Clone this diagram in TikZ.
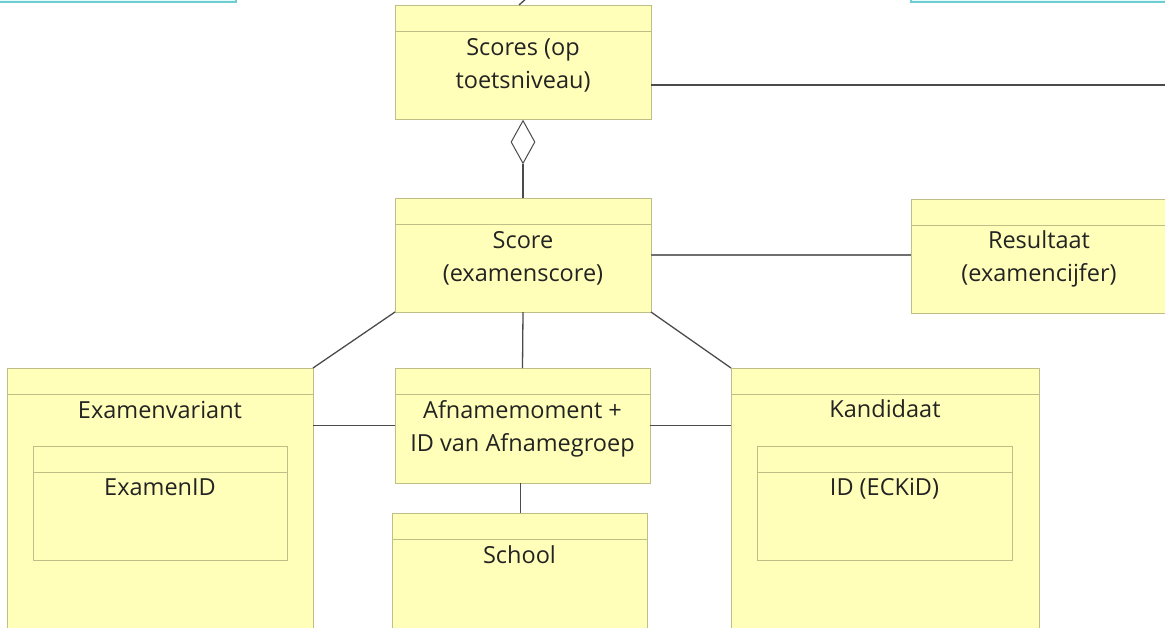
\documentclass[tikz,border=0pt]{standalone}
\usepackage{fontspec}
\setmainfont{Open Sans}
\usetikzlibrary{shapes.geometric}
\definecolor{klassegeel}{RGB}{255,255,185}
\definecolor{klasserand}{RGB}{190,190,135}
\definecolor{lijngrijs}{RGB}{75,75,75}
\definecolor{pakketcyaan}{RGB}{228,250,250}
\definecolor{pakketrand}{RGB}{110,205,210}
\definecolor{tekstkleur}{RGB}{35,35,35}

\begin{document}
\begin{tikzpicture}[x=1pt,y=-1pt]
        \tikzstyle{klasse}=[fill=klassegeel, draw=klasserand, line width=1pt, rectangle, inner sep=0pt, outer sep=0pt, anchor=north west]
        \tikzstyle{rand}=[draw=klasserand, line width=1pt]
        \tikzstyle{tekst}=[font=\fontsize{23.5}{33}\selectfont, text=tekstkleur, align=center, inner sep=0pt, anchor=base]
        \tikzstyle{lijn}=[draw=lijngrijs, line width=1.3pt]
        \tikzstyle{ruit}=[diamond, draw=lijngrijs, fill=white, line width=1pt, inner sep=0pt, minimum width=24pt, minimum height=43pt, anchor=north]
        \tikzstyle{pakket}=[fill=pakketcyaan, draw=pakketrand, line width=1.5pt]

        \useasboundingbox (0,0) rectangle (1165,627);
        \clip (0,0) rectangle (1165,627);

        \draw[pakket] (-5,-60) rectangle (236,2);
        \draw[pakket] (911,-60) rectangle (1175,2);

        \coordinate (boven) at (528,-3);
        \coordinate (rechts) at (1175,85);

        \node[klasse, minimum width=256pt, minimum height=114pt] (scores) at (395,5) {};
        \node[klasse, minimum width=256pt, minimum height=114pt] (score) at (395,198) {};
        \node[klasse, minimum width=256pt, minimum height=114pt] (resultaat) at (911,199) {};
        \node[klasse, minimum width=306pt, minimum height=280pt] (examenvariant) at (7,368) {};
        \node[klasse, minimum width=254pt, minimum height=114pt] (examenid) at (33,446) {};
        \node[klasse, minimum width=255pt, minimum height=115pt] (afname) at (395,368) {};
        \node[klasse, minimum width=255pt, minimum height=130pt] (school) at (392,513) {};
        \node[klasse, minimum width=308pt, minimum height=280pt] (kandidaat) at (731,368) {};
        \node[klasse, minimum width=255pt, minimum height=114pt] (eckid) at (757,446) {};

        \foreach \k in {scores,score,resultaat,examenvariant,examenid,afname,school,kandidaat,eckid}
          \draw[rand] ([yshift=-26pt]\k.north west) -- ([yshift=-26pt]\k.north east);

        \node[tekst] at ([yshift=-83pt]scores.north) {Scores (op\\toetsniveau)};
        \node[tekst] at ([yshift=-83pt]score.north) {Score\\(examenscore)};
        \node[tekst] at ([yshift=-82pt]resultaat.north) {Resultaat\\(examencijfer)};
        \node[tekst] at ([yshift=-50pt]examenvariant.north) {Examenvariant};
        \node[tekst] at ([yshift=-49pt]examenid.north) {ExamenID};
        \node[tekst] at ([yshift=-83pt]afname.north) {Afnamemoment +\\ID van Afnamegroep};
        \node[tekst] at ([yshift=-50pt]school.north) {School};
        \node[tekst] at ([yshift=-49pt]kandidaat.north) {Kandidaat};
        \node[tekst] at ([yshift=-49pt]eckid.north) {ID (ECKiD)};

        \node[ruit] (ruit) at ([yshift=-1pt]scores.south) {};

        \draw[lijn] ([xshift=-4pt]scores.north) -- (boven);
        \draw[lijn] (scores.east |- rechts) -- (rechts);
        \draw[lijn] (ruit.south) -- (score.north);
        \draw[lijn, draw=lijngrijs!80] (score.east) -- (score.east -| resultaat.west);
        \draw[lijn] (score.south west) -- (examenvariant.north east);
        \draw[lijn] (score.south) -- (afname.north);
        \draw[lijn] (score.south east) -- (kandidaat.north west);
        \draw[lijn] (examenvariant.east |- afname.west) -- (afname.west);
        \draw[lijn] (afname.east) -- (kandidaat.west |- afname.east);
        \draw[lijn] ([xshift=-2pt]afname.south) -- ([xshift=1pt]school.north);
      \end{tikzpicture}
\end{document}
